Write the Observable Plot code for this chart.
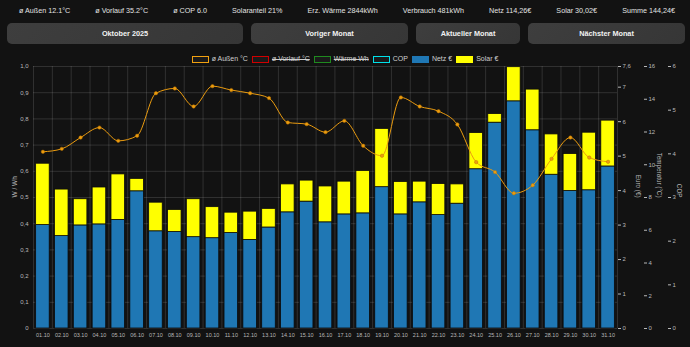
<!DOCTYPE html>
<html><head><meta charset="utf-8">
<script src="https://cdn.jsdelivr.net/npm/d3@7"></script>
<script src="https://cdn.jsdelivr.net/npm/@observablehq/plot@0.6"></script>
<style>
html,body{margin:0;padding:0;background:#121212;width:690px;height:347px;overflow:hidden;font-family:"Liberation Sans",Arial,sans-serif;}
#stats{position:absolute;top:6px;left:0;width:690px;box-sizing:border-box;padding:0 15px 0 19px;display:flex;justify-content:space-between;font-size:7.2px;color:#e2e2e2;line-height:10px;white-space:nowrap;}
#buttons{position:absolute;top:23px;left:7px;display:flex;gap:8px;}
#buttons div{height:21px;border-radius:5px;background:linear-gradient(135deg,#3e3e3e,#363636);color:#f2f2f2;font-weight:bold;font-size:7.3px;display:flex;align-items:center;justify-content:center;}
#chart{position:absolute;top:50px;left:0;width:690px;height:297px;}
#chart svg{position:absolute;left:0;top:0;}
#legend{position:absolute;top:55px;left:0;width:690px;display:flex;justify-content:center;gap:4px;font-size:7px;color:#cfcfcf;line-height:8px;z-index:5;}
#legend .it{display:flex;align-items:center;gap:3px;}
#legend .bx{width:15px;height:5px;border:1.3px solid;background:#1a1a1a;}
#legend .off{text-decoration:line-through;}
</style></head>
<body>
<div id="stats"></div>
<div id="buttons"></div>
<div id="chart"></div>
<div id="legend"></div>
<script>
const statsText = ["ø Außen 12.1°C","ø Vorlauf 35.2°C","ø COP 6.0","Solaranteil 21%","Erz. Wärme 2844kWh","Verbrauch 481kWh","Netz 114,26€","Solar 30,02€","Summe 144,24€"];
const buttonText = ["Oktober 2025","Voriger Monat","Aktueller Monat","Nächster Monat"];
const days = ["01.10","02.10","03.10","04.10","05.10","06.10","07.10","08.10","09.10","10.10","11.10","12.10","13.10","14.10","15.10","16.10","17.10","18.10","19.10","20.10","21.10","22.10","23.10","24.10","25.10","26.10","27.10","28.10","29.10","30.10","31.10"];
const netz = [3.00,2.68,2.99,3.02,3.15,3.98,2.82,2.80,2.65,2.62,2.77,2.57,2.93,3.37,3.68,3.08,3.31,3.34,4.10,3.31,3.66,3.29,3.62,4.62,5.97,6.59,5.75,4.46,3.99,4.01,4.70];
const solar = [1.78,1.35,0.76,1.07,1.32,0.36,0.83,0.64,1.10,0.90,0.59,0.82,0.54,0.81,0.61,1.04,0.95,1.23,1.69,0.94,0.60,0.90,0.56,1.05,0.25,0.99,1.18,1.17,1.07,1.67,1.33];
const aussen = [10.79,10.97,11.66,12.27,11.46,11.77,14.37,14.66,13.56,14.80,14.56,14.37,14.07,12.58,12.48,11.99,12.68,11.16,10.55,14.11,13.56,13.27,12.46,10.16,9.55,8.26,8.75,10.36,11.66,10.44,10.18];
const wwhTicks = [0,0.1,0.2,0.3,0.4,0.5,0.6,0.7,0.8,0.9,1.0];
const euroTicks = [0,1,2,3,4,5,6,7,7.6];
const tempTicks = [0,2,4,6,8,10,12,14,16];
const copTicks = [0,1,2,3,4,5,6];
const legendItems = [
  {name:"ø Außen °C", color:"#f0a010", filled:false, hidden:false},
  {name:"ø Vorlauf °C", color:"#d00000", filled:false, hidden:true},
  {name:"Wärme Wh", color:"#1f8a1f", filled:false, hidden:true},
  {name:"COP", color:"#00e0e8", filled:false, hidden:false},
  {name:"Netz €", color:"#1f77b4", filled:true, hidden:false},
  {name:"Solar €", color:"#ffff00", filled:true, hidden:false}
];

// header
const st = document.getElementById("stats");
statsText.forEach(t => { const s = document.createElement("span"); s.textContent = t; st.appendChild(s); });
const bw = [236,157,104,157];
const bt = document.getElementById("buttons");
buttonText.forEach((t,i) => { const b = document.createElement("div"); b.textContent = t; b.style.width = bw[i]+"px"; bt.appendChild(b); });
const lg = document.getElementById("legend");
legendItems.forEach(it => {
  const d = document.createElement("div"); d.className = "it";
  const b = document.createElement("span"); b.className = "bx";
  b.style.borderColor = it.color;
  if (it.filled) b.style.background = it.color;
  const s = document.createElement("span"); s.textContent = it.name; if (it.hidden) s.className = "off";
  d.appendChild(b); d.appendChild(s); lg.appendChild(d);
});

const orange = "#eb9c10";
const tickColor = "#b8b8b8";
const common = {
  width: 690, height: 297,
  marginTop: 16, marginBottom: 19, marginLeft: 33, marginRight: 73,
  style: {background: "transparent", color: tickColor, fontFamily: "'Liberation Sans', Arial, sans-serif", fontSize: "6px", overflow: "visible"}
};
const xBand = {type: "band", domain: days, paddingInner: 0.28, paddingOuter: 0.14, round: false};
const comma = d => String(d).replace(".", ",");

const layerGrid = Plot.plot({
  ...common,
  x: {type: "linear", domain: [0, days.length], axis: null},
  y: {domain: [0, 1]},
  marks: [
    Plot.gridY(wwhTicks, {stroke: "#fff", strokeOpacity: 0.13}),
    Plot.gridX(d3.range(0, days.length + 1), {stroke: "#fff", strokeOpacity: 0.13}),
    Plot.axisY(wwhTicks, {anchor: "left", tickSize: 0, tickPadding: 5, label: null, tickFormat: d => d === 0 ? "0" : d3.format(".1f")(d).replace(".", ",")}),
    Plot.text(["W / Wh"], {frameAnchor: "left", dx: -19, rotate: -90, fontSize: 6.5, fill: tickColor})
  ]
});

const rows = [];
days.forEach((day, i) => rows.push({day, series: "Netz €", value: netz[i]}));
days.forEach((day, i) => rows.push({day, series: "Solar €", value: solar[i]}));

const layerBars = Plot.plot({
  ...common,
  x: xBand,
  y: {domain: [0, 7.6]},
  color: {domain: ["Netz €", "Solar €"], range: ["#1f77b4", "#ffff00"]},
  marks: [
    Plot.barY(rows, {x: "day", y: "value", fill: "series", stroke: "#0b0b0b", strokeWidth: 0.8}),
    Plot.axisX({tickSize: 0, tickPadding: 5, fontSize: 5.5, label: null}),
    Plot.axisY(euroTicks, {anchor: "right", tickSize: 3, tickPadding: 2, label: null, tickFormat: comma}),
    Plot.text(["Euro (€)"], {frameAnchor: "right", dx: 21, rotate: 90, fontSize: 6.3, fill: tickColor})
  ]
});

const tempRows = days.map((day, i) => ({day, t: aussen[i]}));
const layerTemp = Plot.plot({
  ...common,
  x: {...xBand, axis: null},
  y: {domain: [0, 16]},
  marks: [
    Plot.line(tempRows, {x: "day", y: "t", curve: "monotone-x", stroke: orange, strokeWidth: 1}),
    Plot.dot(tempRows, {x: "day", y: "t", r: 1.7, fill: orange, stroke: "#c07800", strokeWidth: 0.5}),
    Plot.axisY(tempTicks, {anchor: "right", dx: 26, tickSize: 3, tickPadding: 2, label: null}),
    Plot.text(["Temperatur (°C)"], {frameAnchor: "right", dx: 42, rotate: 90, fontSize: 6.3, fill: tickColor})
  ]
});

const layerCop = Plot.plot({
  ...common,
  y: {domain: [0, 6]},
  marks: [
    Plot.axisY(copTicks, {anchor: "right", dx: 50, tickSize: 3, tickPadding: 2, label: null}),
    Plot.text(["COP"], {frameAnchor: "right", dx: 62, rotate: 90, fontSize: 6.3, fill: tickColor})
  ]
});

const ch = document.getElementById("chart");
[layerGrid, layerBars, layerTemp, layerCop].forEach(p => ch.appendChild(p));
</script>
</body></html>
